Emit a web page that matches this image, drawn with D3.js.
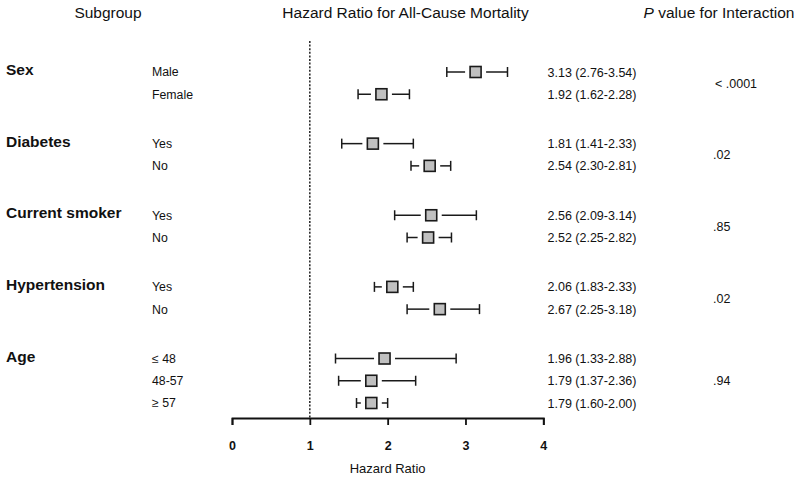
<!DOCTYPE html>
<html>
<head>
<meta charset="utf-8">
<script src="https://cdn.jsdelivr.net/npm/d3@7"></script>
<style>
  html, body { margin: 0; padding: 0; background: #fff; }
  svg { display: block; font-family: "Liberation Sans", Arial, Helvetica, sans-serif; }
</style>
</head>
<body>
<script>
// ---- data ----
const groups = ["Sex", "Diabetes", "Current smoker", "Hypertension", "Age"];
const subgroups = ["Male", "Female", "Yes", "No", "Yes", "No", "Yes", "No", "\u2264 48", "48-57", "\u2265 57"];
const groupOf = [0, 0, 1, 1, 2, 2, 3, 3, 4, 4, 4];
const hr    = [3.13, 1.92, 1.81, 2.54, 2.56, 2.52, 2.06, 2.67, 1.96, 1.79, 1.79];
const lower = [2.76, 1.62, 1.41, 2.30, 2.09, 2.25, 1.83, 2.25, 1.33, 1.37, 1.60];
const upper = [3.54, 2.28, 2.33, 2.81, 3.14, 2.82, 2.33, 3.18, 2.88, 2.36, 2.00];
const pValues = ["< .0001", ".02", ".85", ".02", ".94"];
const xTicks = [0, 1, 2, 3, 4];
const refValue = 1;

// ---- layout ----
const W = 800, H = 477;
const svg = d3.select("body").append("svg").attr("width", W).attr("height", H);
const ink = "#111";

const x = d3.scaleLinear().domain([0, 4]).range([232, 543.3]);
const groupGap = 1.22;
const slots = hr.map((d, i) => i + groupOf[i] * groupGap);
const y = d3.scaleLinear().domain([0, d3.max(slots)]).range([72, 403]);
const rowY = i => y(slots[i]);

// headers
svg.append("text").attr("x", 108).attr("y", 17.5).attr("text-anchor", "middle")
  .attr("font-size", 15.5).attr("fill", ink).text("Subgroup");
svg.append("text").attr("x", 405.5).attr("y", 17.5).attr("text-anchor", "middle")
  .attr("font-size", 15.5).attr("fill", ink).text("Hazard Ratio for All-Cause Mortality");
const ph = svg.append("text").attr("x", 719).attr("y", 17.5).attr("text-anchor", "middle")
  .attr("font-size", 15.5).attr("fill", ink);
ph.append("tspan").attr("font-style", "italic").text("P");
ph.append("tspan").text(" value for Interaction");

// reference line
const axisY = 418;
svg.append("line").attr("x1", x(refValue)).attr("x2", x(refValue))
  .attr("y1", 41).attr("y2", axisY)
  .attr("stroke", ink).attr("stroke-width", 1.4).attr("stroke-dasharray", "2,1.6");

// group labels
groups.forEach((g, gi) => {
  const first = groupOf.indexOf(gi);
  svg.append("text").attr("x", 6).attr("y", rowY(first) + 3)
    .attr("font-size", 15.5).attr("font-weight", "bold").attr("fill", ink).text(g);
});

// subgroup labels
svg.selectAll(".sub").data(subgroups).join("text")
  .attr("class", "sub").attr("x", 152).attr("y", (d, i) => rowY(i)).attr("dy", "0.36em")
  .attr("font-size", 12.3).attr("fill", ink).text(d => d);

// whiskers
const half = 5.5, gap = 5, cap = 5;
const rows = hr.map((d, i) => ({ i, hr: d, lo: lower[i], hi: upper[i] }));
const g = svg.append("g").attr("stroke", "#1a1a1a").attr("stroke-width", 1.5).attr("fill", "none");
rows.forEach(r => {
  const cy = rowY(r.i), cx = x(r.hr);
  g.append("line").attr("x1", x(r.lo)).attr("x2", cx - half - gap).attr("y1", cy).attr("y2", cy);
  g.append("line").attr("x1", cx + half + gap).attr("x2", x(r.hi)).attr("y1", cy).attr("y2", cy);
  g.append("line").attr("x1", x(r.lo)).attr("x2", x(r.lo)).attr("y1", cy - cap).attr("y2", cy + cap);
  g.append("line").attr("x1", x(r.hi)).attr("x2", x(r.hi)).attr("y1", cy - cap).attr("y2", cy + cap);
});
svg.selectAll(".box").data(rows).join("rect").attr("class", "box")
  .attr("x", d => x(d.hr) - half).attr("y", d => rowY(d.i) - half)
  .attr("width", half * 2).attr("height", half * 2)
  .attr("fill", "#c0c0c0").attr("stroke", "#1a1a1a").attr("stroke-width", 1.6);

// estimate text
const f = d3.format(".2f");
svg.selectAll(".est").data(rows).join("text").attr("class", "est")
  .attr("x", 547.5).attr("y", d => rowY(d.i)).attr("dy", "0.36em")
  .attr("font-size", 12.5).attr("fill", ink)
  .text(d => `${f(d.hr)} (${f(d.lo)}-${f(d.hi)})`);

// p values
pValues.forEach((p, gi) => {
  const idx = groupOf.map((v, i) => v === gi ? i : -1).filter(i => i >= 0);
  const cy = (rowY(idx[0]) + rowY(idx[idx.length - 1])) / 2;
  svg.append("text").attr("x", p.startsWith("<") ? 715 : 713).attr("y", cy).attr("dy", "0.36em")
    .attr("font-size", 12.5).attr("fill", ink).text(p);
});

// axis
const axis = d3.axisBottom(x).tickValues(xTicks).tickFormat(d3.format("d"))
  .tickSize(7).tickPadding(16.5);
const ag = svg.append("g").attr("transform", `translate(0,${axisY})`).call(axis);
ag.select(".domain").attr("stroke", ink).attr("stroke-width", 1.8);
ag.selectAll(".tick line").attr("stroke", ink).attr("stroke-width", 1.8);
ag.selectAll(".tick text").attr("fill", ink).attr("font-size", 12.5).attr("font-weight", "bold")
  .attr("font-family", "'Liberation Sans', Arial, sans-serif");

svg.append("text").attr("x", x(2)).attr("y", 472.5).attr("text-anchor", "middle")
  .attr("font-size", 13).attr("fill", ink).text("Hazard Ratio");
</script>
</body>
</html>
